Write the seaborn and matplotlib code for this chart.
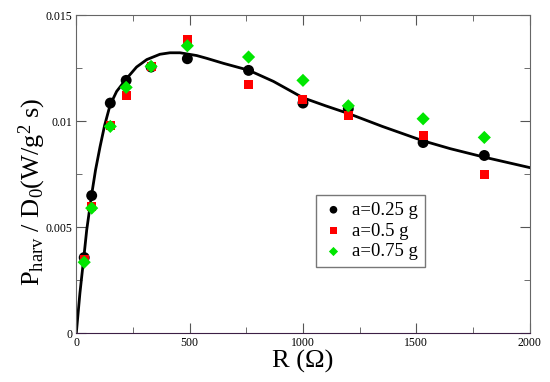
import numpy as np
import pandas as pd
import seaborn as sns
import matplotlib
matplotlib.use('Agg')
import matplotlib.pyplot as plt
from matplotlib.ticker import MultipleLocator

# measured points (R in ohm, P_harv/D0)
R = [35, 68, 150, 220, 330, 490, 760, 1000, 1200, 1530, 1800]
p025 = [0.00357, 0.00649, 0.01085, 0.01192, 0.01255, 0.01294, 0.01239, 0.01085, 0.01058, 0.00899, 0.00838]
p050 = [0.00350, 0.00597, 0.00981, 0.01121, 0.01258, 0.01384, 0.01171, 0.01100, 0.01026, 0.00931, 0.00747]
p075 = [0.00335, 0.00590, 0.00975, 0.01159, 0.01258, 0.01355, 0.01302, 0.01192, 0.01072, 0.01011, 0.00923]
labels = ['a=0.25 g', 'a=0.5 g', 'a=0.75 g']

# fitted curve
fit_R = [0, 16, 35, 46, 68, 85, 105, 125, 149, 178, 220, 266, 311, 369, 413, 458, 531,
         575, 650, 760, 870, 1000, 1100, 1200, 1350, 1530, 1650, 1800, 2000]
fit_P = [0.0, 0.00189, 0.00375, 0.00487, 0.00655, 0.00770, 0.00880, 0.00980, 0.01075,
         0.01140, 0.01198, 0.01255, 0.01290, 0.01315, 0.01322, 0.01322, 0.01309,
         0.01296, 0.01272, 0.01240, 0.01187, 0.01110, 0.01072, 0.01036, 0.00975,
         0.00907, 0.00870, 0.00830, 0.00781]

fit = pd.DataFrame({'R': fit_R, 'P': fit_P})

plt.rcParams['font.family'] = ['Liberation Serif', 'DejaVu Serif']
plt.rcParams['mathtext.fontset'] = 'custom'
plt.rcParams['mathtext.rm'] = 'Liberation Serif'
plt.rcParams['mathtext.it'] = 'Liberation Serif:italic'

fig = plt.figure(figsize=(5.5, 3.82), dpi=100)
ax = fig.add_axes([0.1387, 0.1275, 0.8243, 0.8332])

sns.lineplot(data=fit, x='R', y='P', color='black', lw=2, ax=ax, zorder=2)

series = [p025, p050, p075]
colors = ['black', '#ff0000', '#00e600']
marks = ['o', 's', 'D']
sizes = [62, 42, 45]
for vals, lab, c, m, sz in zip(series, labels, colors, marks, sizes):
    sns.scatterplot(x=R, y=vals, color=c, marker=m, s=sz, edgecolor='none',
                    linewidth=0, label=lab, ax=ax, zorder=3)

ax.set_xlim(0, 2000)
ax.set_ylim(0, 0.015)
ax.xaxis.set_major_locator(MultipleLocator(500))
ax.xaxis.set_minor_locator(MultipleLocator(250))
ax.yaxis.set_minor_locator(MultipleLocator(0.0025))
ax.set_yticks([0, 0.005, 0.01, 0.015])
ax.set_yticklabels(['0', '0.005', '0.01', '0.015'])
ax.tick_params(which='both', direction='in', top=True, right=True, labelsize=8.5,
               color='#555555', pad=3)
ax.tick_params(which='major', length=7)
ax.tick_params(which='minor', length=4)
for s in ax.spines.values():
    s.set_color('#666666')
ax.spines['bottom'].set_color('#3c1f45')

ax.set_xlabel('R (Ω)', fontsize=19, labelpad=0)
ax.set_ylabel(r'$\mathrm{P_{harv}}$ / D$_0$(W/g$^2$ s)', fontsize=19)
ax.yaxis.set_label_coords(-0.063, 0.445)

handles, labs = ax.get_legend_handles_labels()
leg = ax.legend(handles, labs, loc='upper left', bbox_to_anchor=(0.528, 0.4345),
                borderaxespad=0, fontsize=13.5, frameon=True, fancybox=False,
                edgecolor='#555555', handlelength=1.2, handletextpad=0.4,
                borderpad=0.35, labelspacing=0.2, markerscale=0.7)
leg.get_frame().set_linewidth(1)

fig.savefig('out.png', dpi=100)
